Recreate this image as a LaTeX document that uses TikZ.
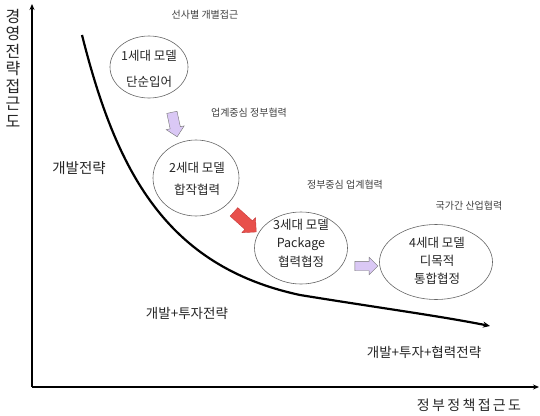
\documentclass[tikz,border=0pt]{standalone}
\usepackage{fontspec}
\setmainfont{Noto Sans CJK KR}
\usetikzlibrary{shapes.arrows,shapes.geometric,arrows.meta}
\begin{document}
\begin{tikzpicture}[x=1pt,y=-1pt,
  bubble/.style={draw=black!60,line width=0.6pt,ellipse,inner sep=0pt},
  btext/.style={font=\fontsize{12.5}{18}\selectfont,align=center,text=black!85},
  lbl/.style={font=\fontsize{10}{12}\selectfont,text=black!75},
  big/.style={font=\fontsize{13.5}{16}\selectfont,text=black!85},
  blk/.style={single arrow,draw=black!55,line width=0.4pt,inner xsep=0pt,inner ysep=5pt,single arrow head extend=4pt,single arrow head indent=0pt},
  lav/.style={blk,fill={rgb,255:red,218;green,200;blue,245}},
  redarr/.style={blk,fill={rgb,255:red,232;green,80;blue,76},draw={rgb,255:red,200;green,60;blue,60}}]
\useasboundingbox (0,0) rectangle (540,415);
\fill[white] (0,0) rectangle (540,415);
% axes
\coordinate (O) at (32,387);
\coordinate (Ytop) at (32,4);
\coordinate (Xend) at (539,387);
\draw[line width=1.2pt,-{Stealth[length=6pt,width=5pt]}] (O) -- (Ytop);
\draw[line width=1.2pt,-{Stealth[length=6pt,width=5pt]}] (O) -- (Xend);
\node[font=\fontsize{16}{17.5}\selectfont,align=center,text=black!85,inner sep=0pt] (ylab) at (13,68) {경\\영\\전\\략\\접\\근\\도};
\node[font=\fontsize{14}{16}\selectfont,text=black!85,inner sep=0pt] (xlab) at (469,405) {정\,부\,정\,책\,접\,근\,도};
% curve
\coordinate (c0) at (82,35);
\coordinate (c1) at (490,326);
\draw[line width=2.2pt,-{Stealth[length=7pt,width=6pt]}] (c0) .. controls (116,170) and (165,266) .. (300,295) .. controls (380,308) and (440,316) .. (c1);
% bubbles
\node[bubble,minimum width=78pt,minimum height=62pt] (b1) at (149,67) {};
\node[btext] (t1) at (149,69) {1세대 모델\\[8pt]단순입어};
\node[bubble,minimum width=86pt,minimum height=76pt] (b2) at (196,178) {};
\node[btext] (t2) at (197,179) {2세대 모델\\[4pt]합작협력};
\node[bubble,minimum width=93pt,minimum height=72pt] (b3) at (301,248) {};
\node[btext,font=\fontsize{12.5}{18.5}\selectfont] (t3) at (301,243) {3세대 모델\\Package\\협력협정};
\node[bubble,minimum width=113pt,minimum height=75pt] (b4) at (436,262) {};
\node[btext,font=\fontsize{12.5}{18}\selectfont] (t4) at (437,261) {4세대 모델\\디목적\\통합협정};
% block arrows
\node[lav,minimum height=25pt,rotate=-78] (a1) at (174,122) {};
\node[redarr,minimum height=30pt,inner ysep=5.5pt,single arrow head extend=4.5pt,rotate=-42] (a2) at (243,220) {};
\node[lav,minimum height=23pt,inner ysep=4.5pt] (a3) at (364,266) {};
% labels
\node[lbl] (l1) at (205,15) {선사별 개별접근};
\node[lbl] (l2) at (249,113) {업계중심 정부협력};
\node[lbl] (l3) at (345,185) {정부중심 업계협력};
\node[lbl] (l4) at (469,206) {국가간 산업협력};
\node[big,font=\fontsize{14.5}{16}\selectfont] (s1) at (79,168) {개발전략};
\node[big] (s2) at (187,313) {개발+투자전략};
\node[big] (s3) at (424,352) {개발+투자+협력전략};
\end{tikzpicture}
\end{document}
